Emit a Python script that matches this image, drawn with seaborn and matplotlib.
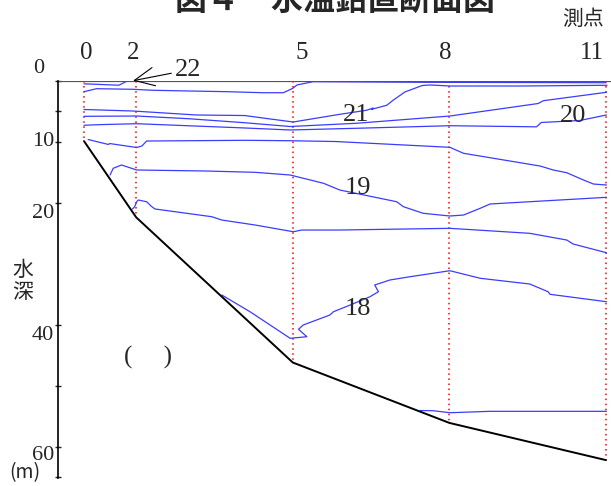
import seaborn as sns
import matplotlib.pyplot as plt
import pandas as pd

# stazioni (distanza in unita' di 1/3 tra 2 e 5) e profondita' del fondo
stations = ["0", "2", "5", "8", "11"]
station_dist = [0, 1, 4, 7, 10]
bottom_depth = [9.9, 22.4, 46.2, 56.1, 62.2]

# isoterme (distanza, profondita' m)
l22_x = [0, 0.67, 0.84]
l22_d = [0.51, 0.74, 0.0]
l2_x = [0, 0.24, 0.94, 1.32, 2.03, 2.74, 3.43, 3.82, 4.0, 4.08, 4.39, 6.44, 10.0]
l2_d = [1.80, 1.31, 1.41, 1.57, 1.69, 1.80, 1.97, 1.97, 1.25, 0.70, 0.16, 0.26, 0.33]
lb_x = [0, 0.94, 2.15, 3.08, 3.50, 4.01, 4.39, 4.90, 5.41, 5.54, 5.51, 5.80, 5.92,
        6.15, 6.48, 6.63, 7.01, 8.35, 10.02]
lb_d = [4.72, 4.97, 5.62, 5.71, 6.20, 6.77, 6.23, 5.51, 4.85, 4.48, 4.69, 4.03, 3.21,
        1.84, 0.79, 0.70, 0.87, 0.87, 0.75]
lc_x = [0, 1.01, 2.0, 3.08, 3.95, 5.22, 7.01, 8.70, 8.80, 10.01]
lc_d = [5.84, 5.79, 6.23, 6.89, 7.51, 6.98, 5.79, 3.74, 3.28, 1.90]
ld_x = [0, 0.27, 1.01, 3.08, 3.95, 5.22, 7.01, 8.67, 8.76, 9.50, 10.01]
ld_d = [7.31, 7.21, 7.05, 7.75, 8.08, 7.80, 7.38, 7.56, 6.85, 6.52, 5.62]
le_x = [0.08, 0.47, 0.49, 1.01, 1.11, 1.20, 3.08, 3.95, 4.82, 7.01, 7.27, 8.74, 8.99,
        9.25, 9.57, 9.76, 10.01]
le_d = [9.64, 10.46, 10.30, 10.95, 10.70, 9.89, 9.77, 9.84, 9.97, 10.92, 11.90, 13.99,
        14.64, 15.09, 16.28, 16.94, 17.10]
lf_x = [0.50, 0.56, 0.72, 1.01, 2.32, 3.28, 3.95, 4.59, 4.90, 5.99, 6.12, 6.50, 7.01,
        7.27, 7.59, 7.78, 10.01]
lf_d = [15.46, 14.36, 13.82, 14.64, 14.80, 15.02, 15.46, 16.82, 17.92, 19.84, 20.66,
        21.74, 22.18, 22.02, 20.92, 20.21, 19.12]
lg_x = [0.93, 0.97, 1.01, 1.04, 1.20, 1.30, 1.36, 2.45, 2.64, 3.28, 4.01, 4.17, 4.90,
        7.01, 8.54, 9.25, 9.37, 10.01]
lg_d = [21.03, 20.66, 19.84, 19.56, 19.84, 20.66, 21.03, 22.30, 22.84, 23.66, 24.76,
        24.48, 24.48, 24.20, 25.02, 26.12, 26.77, 28.20]
lh_x = [2.64, 3.18, 3.95, 4.27, 4.11, 4.20, 4.71, 4.78, 5.10, 5.48, 5.64, 5.57, 5.86,
        6.25, 7.01, 7.59, 8.54, 8.89, 8.93, 10.01]
lh_d = [35.13, 37.87, 42.23, 41.97, 40.75, 40.05, 38.41, 37.87, 36.77, 35.41, 34.59,
        33.49, 32.67, 32.13, 31.15, 32.39, 33.33, 34.59, 35.02, 36.23]
li_x = [6.44, 6.69, 7.01, 7.78, 10.01]
li_d = [54.07, 54.10, 54.43, 54.20, 54.20]

depth_ticks = [0, 5, 10, 20, 40, 50, 60, 65]
depth_labels = ["0", "10", "20", "40", "60"]
depth_label_pos = [-2.0, 10.0, 21.7, 41.7, 61.4]

lines = [l22_x, l2_x, lb_x, lc_x, ld_x, le_x, lf_x, lg_x, lh_x, li_x]
depths = [l22_d, l2_d, lb_d, lc_d, ld_d, le_d, lf_d, lg_d, lh_d, li_d]
rows = []
for i, (xs, ds) in enumerate(zip(lines, depths)):
    for k, (x, d) in enumerate(zip(xs, ds)):
        rows.append({"line": i, "ord": k, "dist": x, "depth": d})
iso = pd.DataFrame(rows)
fondo = pd.DataFrame({"dist": station_dist, "depth": bottom_depth})

sns.set_style("white")
plt.rcParams["font.family"] = ["Liberation Serif", "Noto Sans CJK JP"]

fig = plt.figure(figsize=(6.11, 4.86), dpi=100)
ax = fig.add_axes([58 / 611, 8 / 486, 553 / 611, (478 - 80.7) / 486])

ax.vlines(station_dist, 0, bottom_depth, colors="red", linestyles=(0, (1, 2.3)), lw=1.1)
sns.lineplot(data=iso, x="dist", y="depth", units="line", estimator=None, sort=False,
             color="#3c3cff", lw=0.9, ax=ax)
sns.lineplot(data=fondo, x="dist", y="depth", color="black", lw=1.4, sort=False, ax=ax)
ax.axhline(0, color="#555555", lw=1.6)

ax.set_xlim(-0.498, 10.096)
ax.set_ylim(65.13, 0)
for s in ["top", "right", "bottom"]:
    ax.spines[s].set_visible(False)
ax.spines["left"].set_color("black")
ax.spines["left"].set_linewidth(1.2)
ax.set_xticks([])
ax.set_yticks(depth_ticks)
ax.set_yticklabels([])
ax.tick_params(axis="y", direction="inout", length=5, width=1, left=True)
ax.set_xlabel("")
ax.set_ylabel("")

# etichette stazioni
st_off = [0.04, -0.05, 0.18, -0.07, -0.27]
for s, x, o in zip(stations, station_dist, st_off):
    ax.text(x + o, -4.6, s, ha="center", va="center", fontsize=18, clip_on=False)
ax.text(9.56, -10.1, "測点", ha="center", va="center", fontsize=15,
        family=["Noto Sans CJK JP"], clip_on=False)

for lab, d in zip(depth_labels, depth_label_pos):
    xpos = -0.87 if lab == "0" else -0.57
    ax.text(xpos, d, lab, ha="right" if lab != "0" else "center", va="center",
            fontsize=16, clip_on=False)

ax.annotate("22", xy=(0.94, 0), xytext=(1.99, -1.75), ha="center", va="center",
            fontsize=19, annotation_clip=False,
            arrowprops=dict(arrowstyle="->,head_length=0.75,head_width=0.35",
                            lw=0.8, color="black", shrinkA=0, shrinkB=0))
ax.text(5.21, 5.7, "21", ha="center", va="center", fontsize=19)
ax.text(9.37, 5.8, "20", ha="center", va="center", fontsize=19)
ax.text(5.24, 17.6, "19", ha="center", va="center", fontsize=19)
ax.text(5.24, 37.4, "18", ha="center", va="center", fontsize=19)
ax.text(1.23, 45.3, "(     )", ha="center", va="center", fontsize=18)

fig.text(335 / 611, 1 - 10 / 486, "図４　水温鉛直断面図", ha="center", va="baseline",
         fontsize=23, weight="bold", family=["Noto Sans CJK JP"])
fig.text(23 / 611, 1 - 281 / 486, "水\n深", ha="center", va="center", fontsize=15,
         linespacing=1.0, family=["Noto Sans CJK JP"])
fig.text(25 / 611, 1 - 473 / 486, "(m)", ha="center", va="center", fontsize=14,
         family=["Noto Sans CJK JP"])

fig.savefig("out.png", dpi=100)
